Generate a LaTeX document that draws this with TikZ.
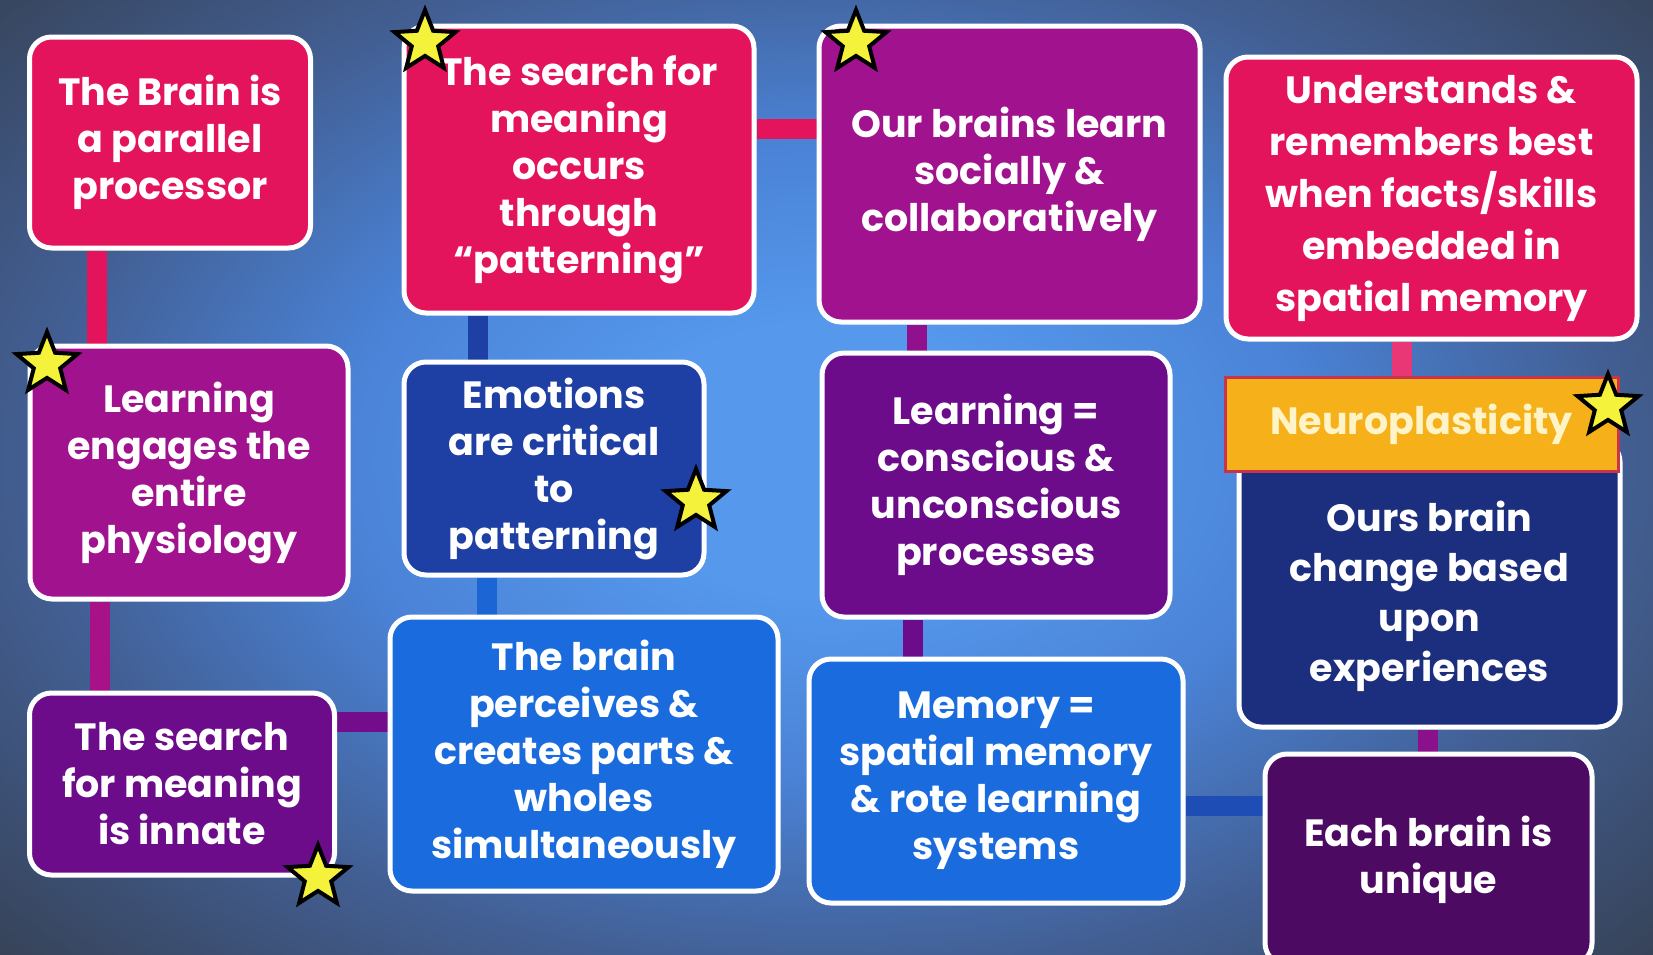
\documentclass[tikz,border=0pt]{standalone}
\usepackage{fontspec}
\setmainfont{Poppins}
\usetikzlibrary{shapes.geometric,calc}
\pgfdeclarelayer{bg}
\pgfsetlayers{bg,main}
\definecolor{bgin}{HTML}{5598EC}
\definecolor{bgmid}{HTML}{4A82D6}
\definecolor{bgout}{HTML}{425E92}
\definecolor{bgcorner}{HTML}{353F50}
\definecolor{pinkc}{HTML}{E4145C}
\definecolor{magc}{HTML}{A0128E}
\definecolor{purc}{HTML}{6C0C8A}
\definecolor{darkpur}{HTML}{4C0A62}
\definecolor{navyc}{HTML}{1C2E7E}
\definecolor{dblue}{HTML}{1E40A4}
\definecolor{bblue}{HTML}{1A6CDE}
\definecolor{orangec}{HTML}{F6B11A}
\definecolor{orangeb}{HTML}{C8344A}
\definecolor{staryellow}{HTML}{F4F23A}
\definecolor{neutext}{HTML}{FFF4C8}
\pgfdeclareradialshading{bgshade}{\pgfpoint{0bp}{0bp}}{color(0bp)=(bgin); color(4.5bp)=(bgin); color(10.5bp)=(bgmid); color(17bp)=(bgout); color(25bp)=(bgcorner); color(50bp)=(bgcorner)}
\begin{document}
\begin{tikzpicture}[x=1pt,y=-1pt,
  box/.style={draw=white, line width=5pt, rounded corners=22pt, align=center, text=white, font=\fontsize{38}{47}\selectfont\bfseries, inner sep=0pt},
  conn/.style={line width=20pt},
  starmark/.style={star, star points=5, star point ratio=2.3, fill=staryellow, draw=black, line width=4pt, minimum size=64pt, inner sep=0pt}]
\useasboundingbox (0,0) rectangle (1653,954);
\begin{pgfonlayer}{bg}
\begin{scope}
\clip (0,0) rectangle (1653,954);
\shade[shading=bgshade] (826,460) ellipse [x radius=1168, y radius=760];
\end{scope}
\end{pgfonlayer}

% boxes
\node[box, fill=pinkc, minimum width=281pt, minimum height=211pt] (b1) at (170,142.5) {The Brain is\\a parallel\\processor};
\node[box, fill=pinkc, minimum width=350pt, minimum height=287pt] (b2) at (579,169.5) {The search for\\meaning\\occurs\\through\\“patterning”};
\node[box, fill=magc, minimum width=381pt, minimum height=296pt] (b3) at (1009.5,174) {Our brains learn\\socially \&\\collaboratively};
\node[box, fill=pinkc, minimum width=411pt, minimum height=282pt, font=\fontsize{38}{52}\selectfont\bfseries] (b4) at (1431.5,198) {Understands \&\\remembers best\\when facts/skills\\embedded in\\spatial memory};
\node[box, fill=magc, minimum width=318pt, minimum height=253pt] (b5) at (189,472.5) {Learning\\engages the\\entire\\physiology};
\node[box, fill=dblue, minimum width=300pt, minimum height=213pt] (b6) at (554,468.5) {Emotions\\are critical\\to\\patterning};
\node[box, fill=purc, minimum width=348pt, minimum height=264pt] (b7) at (996,485) {Learning =\\conscious \&\\unconscious\\processes};
\node[box, fill=navyc, minimum width=381pt, minimum height=287pt] (b8) at (1429.5,583.5) {};
\node[align=center, text=white, font=\fontsize{38}{50}\selectfont\bfseries] (b8t) at (1429.5,596) {Ours brain\\change based\\upon\\experiences};
\node[draw=orangeb, line width=3pt, fill=orangec, minimum width=393pt, minimum height=94pt, inner sep=0pt, text=neutext, font=\fontsize{38}{47}\selectfont\bfseries] (neuro) at (1421.5,424) {Neuroplasticity};
\node[box, fill=purc, minimum width=305pt, minimum height=182pt] (b9) at (182,784) {The search\\for meaning\\is innate};
\node[box, fill=bblue, minimum width=388pt, minimum height=274pt] (b10) at (584,754) {The brain\\perceives \&\\creates parts \&\\wholes\\simultaneously};
\node[box, fill=bblue, minimum width=374pt, minimum height=244pt] (b11) at (996,781) {Memory =\\spatial memory\\\& rote learning\\systems};
\node[box, fill=darkpur, minimum width=327pt, minimum height=211pt] (b12) at (1428.5,859.5) {Each brain is\\unique};

% connectors
\begin{pgfonlayer}{bg}
\draw[conn, draw=pinkc] (b1.south -| 97,0) -- (b5.north -| 97,0);
\draw[conn, draw=magc!90!pinkc] (b5.south -| 100,0) -- (b9.north -| 100,0);
\draw[conn, draw=purc!85!magc] (b9.east |- 0,722) -- (b10.west |- 0,722);
\draw[conn, draw=pinkc] (b2.east |- 0,129) -- (b3.west |- 0,129);
\draw[conn, draw=dblue] (b2.south -| 478,0) -- (b6.north -| 478,0);
\draw[conn, draw=bblue!85!dblue] (b6.south -| 487,0) -- (b10.north -| 487,0);
\draw[conn, draw=magc!70!purc] (b3.south -| 917,0) -- (b7.north -| 917,0);
\draw[conn, draw=purc] (b7.south -| 913,0) -- (b11.north -| 913,0);
\draw[conn, draw=pinkc!85!white] (b4.south -| 1402,0) -- (neuro.north -| 1402,0);
\draw[conn, draw=magc!60!purc] (b8.south -| 1428,0) -- (b12.north -| 1428,0);
\draw[conn, draw=dblue!70!bblue] (b11.east |- 0,806) -- (b12.west |- 0,806);
\end{pgfonlayer}

% stars
\node[starmark] (s1) at (425,42) {};
\node[starmark] (s2) at (856,42) {};
\node[starmark] (s3) at (47,364) {};
\node[starmark] (s4) at (696,501) {};
\node[starmark] (s5) at (318,877) {};
\node[starmark] (s6) at (1608,406) {};
\end{tikzpicture}
\end{document}
